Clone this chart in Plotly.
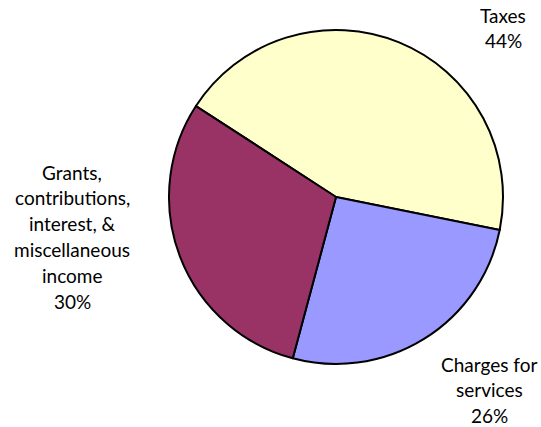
import plotly.graph_objects as go

categories = ["Taxes", "Charges for services",
              "Grants, contributions, interest, & miscellaneous income"]
label_lines = [["Taxes"], ["Charges for", "services"],
               ["Grants,", "contributions,", "interest, &", "miscellaneous", "income"]]
values = [44, 26, 30]
colors = ["#FFFFCC", "#9999FF", "#993366"]

W, H = 541, 427
cx, cy, r = 336, 197, 167

fig = go.Figure(go.Pie(
    labels=categories,
    values=values,
    sort=False,
    direction="clockwise",
    rotation=-57,
    marker=dict(colors=colors, line=dict(color="black", width=2)),
    textinfo="none",
    hoverinfo="label+percent",
    showlegend=False,
    domain=dict(x=[(cx - r) / W, (cx + r) / W], y=[(H - cy - r) / H, (H - cy + r) / H]),
))

FONT = dict(family="Lato, Open Sans, sans-serif", size=19, color="#000000")
# label anchor (center x, y of first line) in pixels, line spacing
anchors = [(503, 15), (489, 364), (72, 172)]
spacing = 25.8
for lines, v, (ax, ay) in zip(label_lines, values, anchors):
    all_lines = lines + [f"{v}%"]
    for i, t in enumerate(all_lines):
        y = ay + i * spacing
        fig.add_annotation(x=ax / W, y=1 - y / H, xref="paper", yref="paper",
                           text=t, showarrow=False, xanchor="center", yanchor="middle",
                           font=FONT)

fig.update_layout(width=W, height=H, margin=dict(l=0, r=0, t=0, b=0),
                  paper_bgcolor="white", plot_bgcolor="white")
fig.write_html("out.html")
